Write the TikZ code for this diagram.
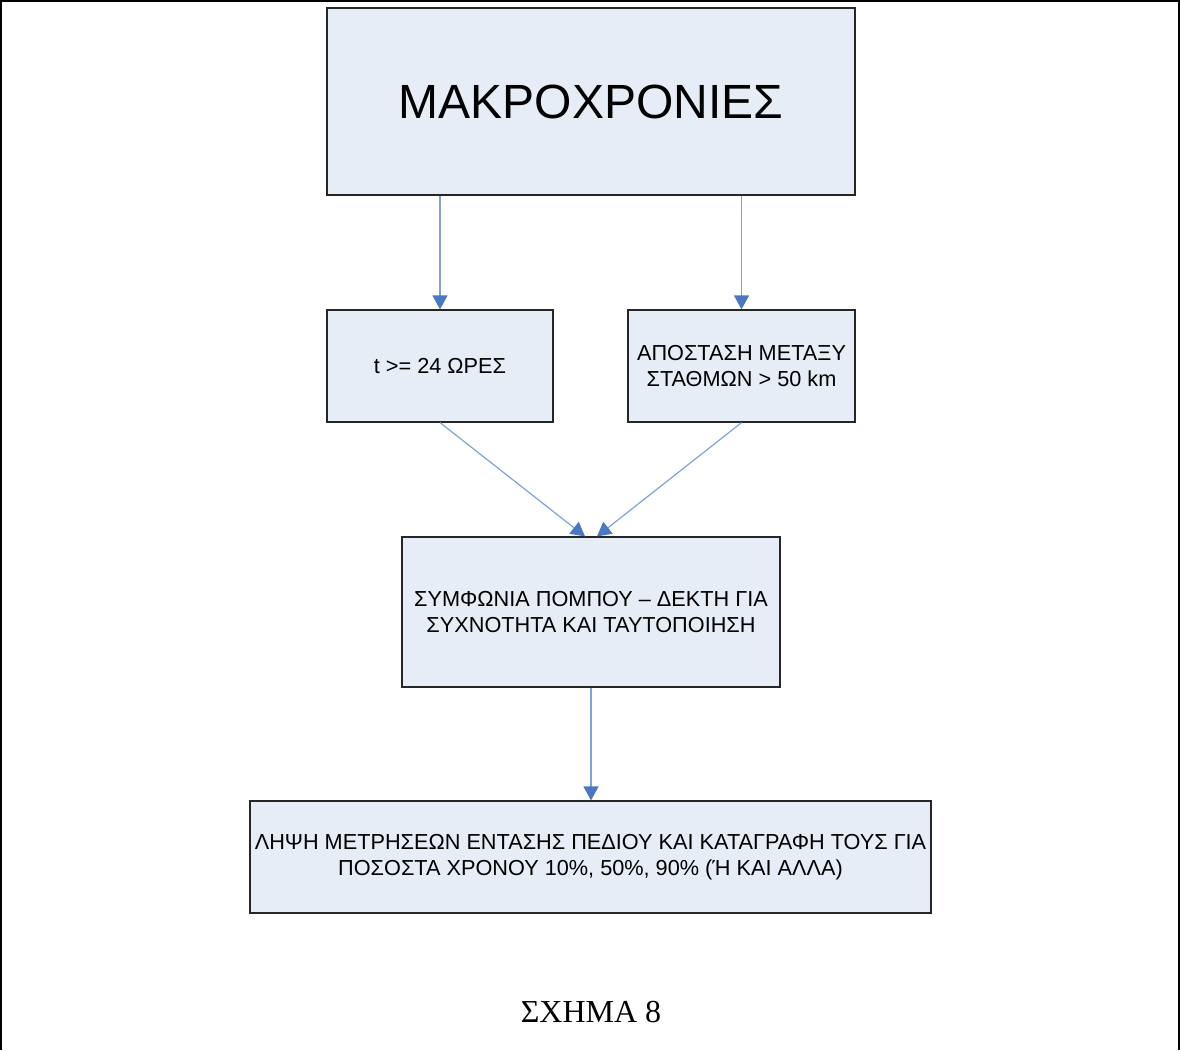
\documentclass[tikz,border=0pt]{standalone}
\usepackage{fontspec}
\setmainfont{Liberation Sans}
\newfontfamily\captionserif{Liberation Serif}
\usetikzlibrary{arrows.meta}

\definecolor{boxfill}{HTML}{E6EDF7}
\definecolor{linkline}{HTML}{7FA3D6}
\definecolor{linktip}{HTML}{4A78C2}

\tikzset{
  flowbox/.style={draw=black!85, line width=1.2pt, fill=boxfill,
    inner sep=0pt, align=center, font=\fontsize{21.7}{26}\selectfont},
  link/.style={draw=linkline, line width=1.2pt,
    -{Triangle[width=15pt,length=14pt,color=linktip]}},
}

\begin{document}
\begin{tikzpicture}[x=1pt,y=-1pt]
  \useasboundingbox (0,0) rectangle (1180,1050);

  % page frame
  \draw[line width=2pt] (1,1050) -- (1,1) -- (1179,1) -- (1179,1050);

  % boxes
  \node[flowbox, minimum width=528pt, minimum height=187pt,
        font=\fontsize{48}{52}\selectfont] (top) at (591,101.5) {ΜΑΚΡΟΧΡΟΝΙΕΣ};
  \node[flowbox, minimum width=226pt, minimum height=112pt] (time) at (440,366) {t >= 24 ΩΡΕΣ};
  \node[flowbox, minimum width=227pt, minimum height=112pt] (dist) at (741.5,366) {ΑΠΟΣΤΑΣΗ ΜΕΤΑΞΥ\\ΣΤΑΘΜΩΝ > 50 km};
  \node[flowbox, minimum width=378pt, minimum height=150pt] (agree) at (591,612) {ΣΥΜΦΩΝΙΑ ΠΟΜΠΟΥ – ΔΕΚΤΗ ΓΙΑ\\ΣΥΧΝΟΤΗΤΑ ΚΑΙ ΤΑΥΤΟΠΟΙΗΣΗ};
  \node[flowbox, minimum width=681pt, minimum height=112pt] (meas) at (590.5,857) {ΛΗΨΗ ΜΕΤΡΗΣΕΩΝ ΕΝΤΑΣΗΣ ΠΕΔΙΟΥ ΚΑΙ ΚΑΤΑΓΡΑΦΗ ΤΟΥΣ ΓΙΑ\\ΠΟΣΟΣΤΑ ΧΡΟΝΟΥ 10\%, 50\%, 90\% (Ή ΚΑΙ ΑΛΛΑ)};

  % connectors
  \draw[link] (top.south -| time.north) -- (time.north);
  \draw[link] (top.south -| dist.north) -- (dist.north);
  \draw[link] (time.south) -- ([xshift=-6pt]agree.north);
  \draw[link] (dist.south) -- ([xshift=6pt]agree.north);
  \draw[link] (agree.south) -- (agree.south |- meas.north);

  % caption
  \node[font=\captionserif\fontsize{32}{36}\selectfont] (cap) at (591,1012) {ΣΧΗΜΑ 8};
\end{tikzpicture}
\end{document}
